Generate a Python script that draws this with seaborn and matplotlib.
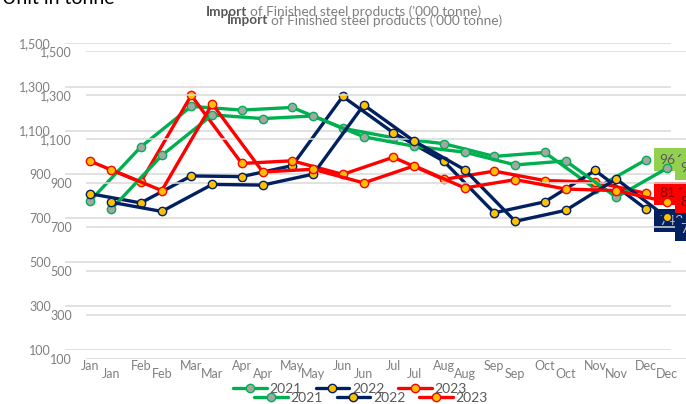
import matplotlib
matplotlib.use("Agg")
import matplotlib.pyplot as plt
from matplotlib.lines import Line2D
import seaborn as sns

# data
months = ['Jan', 'Feb', 'Mar', 'Apr', 'May', 'Jun', 'Jul', 'Aug', 'Sep', 'Oct', 'Nov', 'Dec']
imp2021 = [780, 1025, 1210, 1193, 1205, 1110, 1067, 1040, 982, 1000, 835, 966]
imp2022 = [812, 770, 893, 890, 940, 1255, 1090, 960, 725, 775, 918, 743]
imp2023 = [960, 865, 1260, 950, 962, 900, 978, 877, 915, 872, 865, 814]
years = ['2021', '2022', '2023']
yticks = [100, 300, 500, 700, 900, 1100, 1300, 1500]

sns.set_theme(style="white")
plt.rcParams['font.family'] = ['Lato', 'DejaVu Sans']

W, H = 686, 404
GREY = '#7F7F7F'
styles = {
    '2021': dict(color='#00B050', mfc='#A5A5A5'),
    '2022': dict(color='#002060', mfc='#FFC000'),
    '2023': dict(color='#FF0000', mfc='#FFC000'),
}
series = {'2021': imp2021, '2022': imp2022, '2023': imp2023}
labels = {'2021': ('966', '#92D050', '#595959', 0),
          '2022': ('743', '#002060', '#BFBFBF', -12),
          '2023': ('814', '#FF0000', '#7F0000', 0)}

fig = plt.figure(figsize=(W / 100, H / 100), dpi=100)


def fx(px):
    return px / W


def fy(py):
    return 1 - py / H


def draw_copy(left, top, dx, dy):
    # one copy of the chart, the picture holds two offset copies
    bottom = 350 + dy
    ax = fig.add_axes([fx(left), fy(bottom), 606 / W, (350 - 42.7) / H])
    ax.set_facecolor('none')
    for yr in years:
        st = styles[yr]
        sns.lineplot(x=months, y=series[yr], ax=ax, color=st['color'], lw=2.4,
                     marker='o', markersize=6, markerfacecolor=st['mfc'],
                     markeredgecolor=st['color'], markeredgewidth=1.0, zorder=3)
        txt, fc, tc, off = labels[yr]
        ax.annotate(txt, xy=(11, series[yr][-1]), xytext=(14, off),
                    textcoords='offset pixels', ha='left', va='center',
                    fontsize=10, color=tc, zorder=4,
                    bbox=dict(boxstyle='square,pad=0.4', fc=fc, ec='none'))
    ax.set_xlim(-0.5, 11.5)
    ax.set_ylim(100, 1500)
    ax.set_yticks(yticks)
    ax.set_yticklabels([f'{v:,}' for v in yticks])
    ax.yaxis.grid(True, color='#D9D9D9', lw=1.1)
    ax.xaxis.grid(False)
    for s in ax.spines.values():
        s.set_visible(False)
    ax.tick_params(axis='y', length=0, pad=10, labelsize=9, labelcolor=GREY)
    ax.tick_params(axis='x', length=0, pad=7, labelsize=9, labelcolor=GREY)
    ax.set_xlabel('')
    ax.set_ylabel('')

    # title
    fig.text(fx(247 + dx), fy(12 + dy), 'Import', ha='right', va='center',
             fontsize=9.8, weight='bold', color='#595959')
    fig.text(fx(250 + dx), fy(12 + dy), "of Finished steel products ('000 tonne)",
             ha='left', va='center', fontsize=9.8, color=GREY)

    # legend
    handles = [Line2D([], [], color=styles[yr]['color'], lw=2.4, marker='o',
                      markersize=6, markerfacecolor=styles[yr]['mfc'],
                      markeredgecolor=styles[yr]['color']) for yr in years]
    fig.legend(handles, years, loc='center', ncol=3, frameon=False,
               bbox_to_anchor=(fx(350 + dx), fy(389 + dy)), fontsize=10,
               handlelength=2.4, handletextpad=0.2, columnspacing=1.0,
               labelcolor='#595959', borderaxespad=0)


draw_copy(65, 42.7, 0, 0)
draw_copy(86, 51.2, 21, 8.5)

fig.text(0.003, fy(4), 'Unit in tonne', ha='left', va='baseline', fontsize=14, color='black')

fig.savefig('out.png', dpi=100)
